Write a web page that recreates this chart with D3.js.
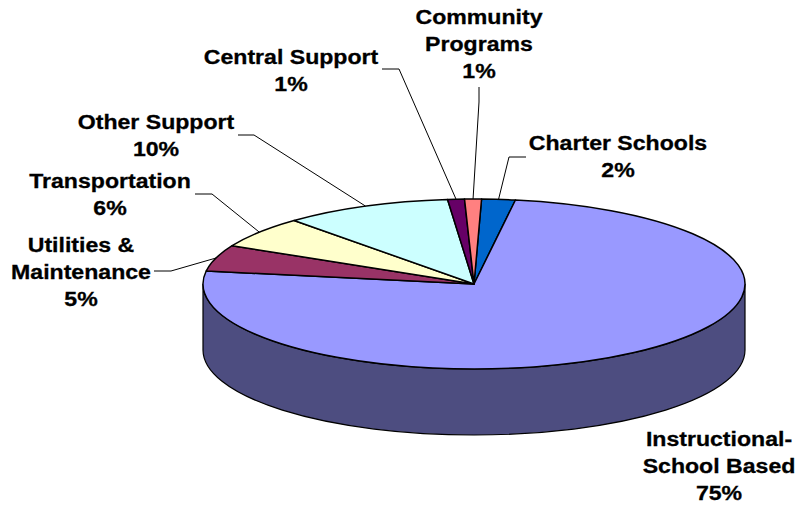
<!DOCTYPE html>
<html>
<head>
<meta charset="utf-8">
<script src="https://cdn.jsdelivr.net/npm/d3@7/dist/d3.min.js"></script>
<style>
  html, body { margin: 0; padding: 0; background: #fff; }
  svg { display: block; }
  text { font-family: "Liberation Sans", Arial, sans-serif; font-weight: bold; font-size: 21px; fill: #000; stroke: #000; stroke-width: 0.3px; text-anchor: middle; }
</style>
</head>
<body>
<svg id="chart" width="797" height="506"></svg>
<script>
// Budget shares, clockwise from just past twelve o'clock
const categories = ["Charter Schools", "Instructional-School Based", "Utilities & Maintenance",
                    "Transportation", "Other Support", "Central Support", "Community Programs"];
const shares = [2, 75, 5, 6, 10, 1, 1];
const sliceColors = ["#0066CC", "#9999FF", "#993366", "#FFFFCC", "#CCFFFF", "#660066", "#FF8080"];

// Label text broken into lines
const labelLines = [
  ["Charter Schools", "2%"],
  ["Instructional-", "School Based", "75%"],
  ["Utilities &", "Maintenance", "5%"],
  ["Transportation", "6%"],
  ["Other Support", "10%"],
  ["Central Support", "1%"],
  ["Community", "Programs", "1%"]
];

// Label placement: centre x, first baseline, and leader start and elbow
const labelPlacement = [
  { x: 618, y: 150, from: [526, 157], elbow: [509, 157] },
  { x: 719, y: 446 },
  { x: 81,  y: 252, from: [154, 271], elbow: [171, 271] },
  { x: 110, y: 188, from: [195, 194], elbow: [212, 194] },
  { x: 156, y: 129, from: [238, 135], elbow: [254, 135] },
  { x: 291, y: 64,  from: [382, 69],  elbow: [399, 69] },
  { x: 479, y: 24,  from: [479, 87],  elbow: [479, 102] }
];

const lineHeight = 26.8;
const labelStretch = 1.1;
const cx = 474, cy = 284, rx = 271, ry = 85, depth = 66;
const side = "#4D4D80";

const svg = d3.select("#chart");
const pie = d3.pie().sort(null).value(d => d)
  .startAngle(1.6 * Math.PI / 180)
  .endAngle(361.6 * Math.PI / 180);
const slices = pie(shares);
const arc = d3.arc().innerRadius(0).outerRadius(rx);

// Point on the top ellipse for a pie angle
const rim = a => [cx + rx * Math.sin(a), cy - ry * Math.cos(a)];

// Front wall of the disc
svg.append("path")
  .attr("d", `M${cx - rx},${cy} V${cy + depth} A${rx},${ry} 0 0 0 ${cx + rx},${cy + depth} V${cy} A${rx},${ry} 0 0 1 ${cx - rx},${cy} Z`)
  .attr("fill", side)
  .attr("stroke", "#000")
  .attr("stroke-width", 1.2);

// Top face: circular arcs squashed to an ellipse
svg.append("g")
  .attr("transform", `translate(${cx},${cy}) scale(1,${ry / rx})`)
  .selectAll("path")
  .data(slices)
  .join("path")
  .attr("d", arc)
  .attr("fill", (d, i) => sliceColors[i])
  .attr("stroke", "#000")
  .attr("stroke-width", 1.5)
  .attr("stroke-linejoin", "round")
  .attr("vector-effect", "non-scaling-stroke");

// Leader lines end on the rim at each slice's mid angle
const leader = d3.line();
svg.append("g")
  .selectAll("path")
  .data(slices.filter((d, i) => labelPlacement[i].from))
  .join("path")
  .attr("d", d => {
    const p = labelPlacement[d.index];
    return leader([p.from, p.elbow, rim((d.startAngle + d.endAngle) / 2)]);
  })
  .attr("fill", "none")
  .attr("stroke", "#000")
  .attr("stroke-width", 1);

// Category labels with their percentages
const labels = svg.append("g")
  .selectAll("text")
  .data(labelLines)
  .join("text")
  .attr("transform", (d, i) => `translate(${labelPlacement[i].x},${labelPlacement[i].y}) scale(${labelStretch},1)`);
labels.selectAll("tspan")
  .data(d => d)
  .join("tspan")
  .attr("x", 0)
  .attr("y", (d, i) => i * lineHeight)
  .text(d => d);
</script>
</body>
</html>
